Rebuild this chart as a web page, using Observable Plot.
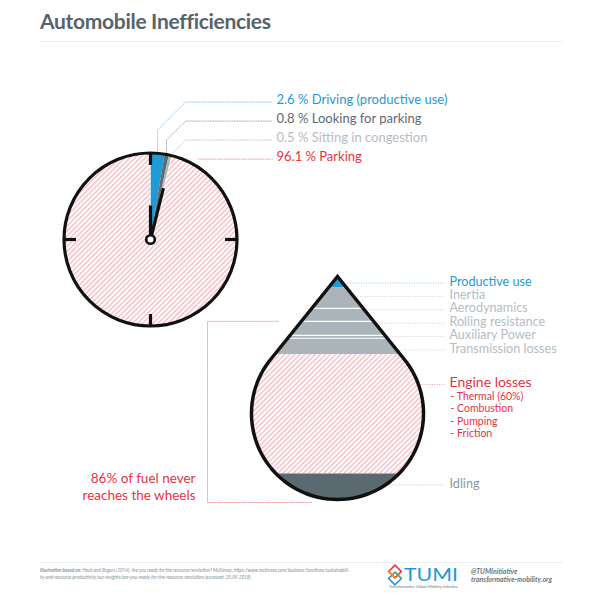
<!DOCTYPE html>
<html><head><meta charset="utf-8">
<script src="https://cdn.jsdelivr.net/npm/d3@7"></script>
<script src="https://cdn.jsdelivr.net/npm/@observablehq/plot@0.6"></script>
<style>
html,body{margin:0;padding:0;background:#fff;}
#page{position:relative;width:600px;height:600px;overflow:hidden;font-family:Lato,"Open Sans",sans-serif;}
#head{position:relative;height:45px;}
#title{position:absolute;left:40px;top:8px;margin:0;font-size:21px;font-weight:700;letter-spacing:-0.3px;color:#56636c;line-height:1.2;white-space:nowrap;}
#rule{position:absolute;left:40px;top:41px;width:523px;height:0;border-top:1px solid #eceef0;}
#chart{height:512px;}
#chart svg{display:block;}
#foot{position:relative;height:43px;}
#foot svg{display:block;}
</style></head>
<body><div id="page">
<div id="head"><h1 id="title">Automobile Inefficiencies</h1><div id="rule"></div></div>
<div id="chart"></div>
<div id="foot">
<svg width="600" height="43" viewBox="0 557 600 43" font-family="Lato, sans-serif">
  <line x1="40" x2="563" y1="562.5" y2="562.5" stroke="#eceef0" stroke-width="1"/>
  <text x="40" y="572" font-size="4.7" font-style="italic" fill="#8a9196"><tspan font-weight="700">Illustration based on:</tspan> Heck and Rogers (2014): Are you ready for the resource revolution? McKinsey, https://www.mckinsey.com/business-functions/sustainabili-</text>
  <text x="40" y="578.5" font-size="4.7" font-style="italic" fill="#8a9196">ty-and-resource-productivity/our-insights/are-you-ready-for-the-resource-revolution (accessed: 20.09.2018)</text>
  <g transform="translate(395,575) rotate(45)" fill="none" stroke-width="1.6">
    <rect x="-7" y="-7" width="9" height="9" stroke="#e8323f"/>
    <rect x="-2" y="-2" width="9" height="9" stroke="#1e9ad6"/>
    <line x1="-7" y1="2" x2="2" y2="2" stroke="#f39200"/>
    <line x1="7" y1="-2" x2="-2" y2="-2" stroke="#6cb33f"/>
  </g>
  <text x="404" y="581" font-size="17" fill="#1e9ad6" textLength="54" lengthAdjust="spacingAndGlyphs">TUMI</text>
  <text x="389" y="588" font-size="3.4" fill="#6b757b" textLength="69" lengthAdjust="spacingAndGlyphs">Transformative Urban Mobility Initiative</text>
  <text x="471" y="574" font-size="7" font-weight="700" font-style="italic" fill="#6b757b">@TUMInitiative</text>
  <text x="471" y="582" font-size="7" font-weight="700" font-style="italic" fill="#6b757b" textLength="81" lengthAdjust="spacingAndGlyphs">transformative-mobility.org</text>
</svg>
</div>
</div>
<script>
// ---------------- DATA ----------------
const clockLabels = ["Driving (productive use)", "Looking for parking", "Sitting in congestion", "Parking"];
const clockShares = [2.6, 0.8, 0.5, 96.1];

const fuelBands = ["Productive use", "Inertia", "Aerodynamics", "Rolling resistance", "Auxiliary Power", "Transmission losses", "Engine losses", "Idling"];
const fuelHeights = [4.9, 9.4, 5.8, 6.3, 1.3, 7.2, 53.4, 11.7]; // share of the drop's height (%)
const engineSubItems = ["- Thermal (60%)", "- Combustion", "- Pumping", "- Friction"];
const bracketLines = ["86% of fuel never", "reaches the wheels"];

// ---------------- STYLES ----------------
const BLUE = "#1e9ad6", DARK = "#5e6a72", LIGHT = "#aab4b9", RED = "#e8323f", IDLE = "#5b6971", INK = "#111";
const clockFills = [BLUE, DARK, LIGHT, "url(#hatch)"];
const clockText = [BLUE, DARK, "#b5bdc2", RED];
const clockLead = ["#8fcdee", "#a9b0b5", "#c9cfd3", "#f3a0a7"];
const bandFills = [BLUE, LIGHT, LIGHT, LIGHT, LIGHT, LIGHT, "url(#hatch)", IDLE];
const bandText = [BLUE, "#b5bdc2", "#b5bdc2", "#b5bdc2", "#b5bdc2", "#b5bdc2", RED, "#8d979d"];
const bandLead = ["#8fcdee", "#cdd2d6", "#cdd2d6", "#cdd2d6", "#cdd2d6", "#cdd2d6", "#f3a0a7", "#bfc5c9"];

// ---------------- LAYOUT ----------------
const TOP = 45, H = 512, W = 600;
const clock = {cx: 150, cy: 239, r: 86.5};
const drop = {cx: 337, apexY: 276, cy: 413, r: 86};
const clockLabelX = 276, clockLeadEnd = 272, clockElbowX = 185;
const clockLabelY = clockLabels.map((d, i) => 99.8 + i * 19);
const clockAnchorFrac = [null, null, null, 0.085]; // where the parking leader leaves the dial
const dropLabelX = 449, dropLeadEnd = 444;
const dropLabelY = [281, 294.4, 307.8, 321.2, 334.6, 348, 382.5, 483];
const subY = engineSubItems.map((d, i) => 395.8 + i * 12.6);

// ---------------- GEOMETRY ----------------
const polar = (a, rr) => ({x: clock.cx + rr * Math.sin(a), y: clock.cy - rr * Math.cos(a)});
const pie = d3.pie().sort(null).value(d => d)(clockShares);

const slicePts = pie.flatMap((p, i) => {
  const n = Math.max(4, Math.ceil((p.endAngle - p.startAngle) / 0.01));
  const pts = [{x: clock.cx, y: clock.cy}];
  for (let j = 0; j <= n; j++) pts.push(polar(p.startAngle + (p.endAngle - p.startAngle) * j / n, clock.r));
  pts.push({x: clock.cx, y: clock.cy});
  return pts.map(q => ({...q, k: i, fill: clockFills[i]}));
});

const ticks = d3.range(4).map(i => {
  const a = i * Math.PI / 2, p1 = polar(a, clock.r - 12), p2 = polar(a, clock.r);
  return {x1: p1.x, y1: p1.y, x2: p2.x, y2: p2.y};
});
const handAngles = [pie[0].startAngle, pie[2].endAngle];
const handLens = [34, 53];
const hands = handAngles.map((a, i) => {
  const p = polar(a, handLens[i]);
  return {x1: clock.cx, y1: clock.cy, x2: p.x, y2: p.y};
});

const clockLeaders = pie.flatMap((p, i) => {
  const ly = clockLabelY[i] + 1.8;
  const a = clockAnchorFrac[i] != null ? clockAnchorFrac[i] * 2 * Math.PI : (p.startAngle + p.endAngle) / 2;
  const p0 = polar(a, clockAnchorFrac[i] != null ? clock.r + 7 : clock.r - 1);
  const pts = [p0];
  const vy = ly + (clockElbowX - p0.x);
  if (clockElbowX > p0.x && vy < p0.y) { pts.push({x: p0.x, y: vy}); pts.push({x: clockElbowX, y: ly}); }
  else pts.push({x: p0.x + (p0.y - ly), y: ly});
  pts.push({x: clockLeadEnd, y: ly});
  return pts.map(q => ({...q, k: i, stroke: clockLead[i]}));
});

// drop
const dd = drop.cy - drop.apexY, cosPhi = drop.r / dd;
const tanY = drop.cy - drop.r * cosPhi, tanOff = drop.r * Math.sqrt(1 - cosPhi * cosPhi);
const slope = tanOff / (tanY - drop.apexY);
const bottomY = drop.cy + drop.r;
const hw = y => y <= tanY ? Math.max(0, (y - drop.apexY) * slope) : Math.sqrt(Math.max(0, drop.r * drop.r - (y - drop.cy) ** 2));
const cum = d3.cumsum(fuelHeights);
const total = cum[cum.length - 1];
const bounds = [drop.apexY, ...Array.from(cum, c => drop.apexY + c / total * (bottomY - drop.apexY))];
const ysBetween = (a, b, step = 0.5) => { const out = []; for (let y = a; y < b; y += step) out.push(y); out.push(b); return out; };

const bandPts = fuelBands.flatMap((name, i) => {
  const ys = ysBetween(bounds[i], bounds[i + 1]);
  const left = ys.map(y => ({x: drop.cx - hw(y), y}));
  const right = ys.slice().reverse().map(y => ({x: drop.cx + hw(y), y}));
  return [...left, ...right].map(q => ({...q, k: i, fill: bandFills[i]}));
});
const sepIdx = [2, 3, 4, 5];
const separators = sepIdx.map(j => ({x1: drop.cx - hw(bounds[j]), x2: drop.cx + hw(bounds[j]), y: bounds[j]}));

const ysUp = ysBetween(drop.apexY, bottomY).reverse();
const outline = [
  ...ysUp.map(y => ({x: drop.cx - hw(y), y})),
  ...ysBetween(drop.apexY, bottomY).map(y => ({x: drop.cx + hw(y), y}))
];

const dropLeaders = fuelBands.map((d, i) => {
  const y = dropLabelY[i] + 1.5;
  return {x1: drop.cx + hw(y) + 1.5, x2: dropLeadEnd, y, stroke: bandLead[i]};
});

// bracket for "86% of fuel never reaches the wheels"
const brTop = bounds[3], brBottom = bottomY + 3, brX = 207;
const bracket = [
  {x: 278, y: brTop}, {x: brX, y: brTop}, {x: brX, y: brBottom}, {x: 312, y: brBottom}
];
const bracketY = [478.5, 495];

// ---------------- PLOT ----------------
const dotted = {strokeWidth: 1, strokeDasharray: "1 1.4"};
const chart = Plot.plot({
  width: W, height: H, margin: 0,
  x: {domain: [0, W], range: [0, W], axis: null},
  y: {domain: [TOP, TOP + H], range: [0, H], axis: null},
  color: {type: "identity"},
  style: {fontFamily: "Lato, 'Open Sans', sans-serif", background: "#fff"},
  marks: [
    // clock leaders
    Plot.line(clockLeaders, {x: "x", y: "y", z: "k", stroke: "stroke", ...dotted, curve: "linear"}),
    // clock slices
    Plot.line(slicePts, {x: "x", y: "y", z: "k", fill: "fill", stroke: "none"}),
    Plot.dot([clock], {x: "cx", y: "cy", r: clock.r, stroke: INK, strokeWidth: 3.2, fill: "none"}),
    Plot.link(ticks, {x1: "x1", y1: "y1", x2: "x2", y2: "y2", stroke: INK, strokeWidth: 3.2, strokeLinecap: "butt"}),
    Plot.link(hands, {x1: "x1", y1: "y1", x2: "x2", y2: "y2", stroke: INK, strokeWidth: 3.2, strokeLinecap: "butt"}),
    Plot.dot([clock], {x: "cx", y: "cy", r: 4.3, stroke: INK, strokeWidth: 2.6, fill: "#fff"}),
    Plot.text(clockLabels, {x: () => clockLabelX, y: (d, i) => clockLabelY[i], text: (d, i) => `${clockShares[i]} % ${d}`,
      fill: (d, i) => clockText[i], textAnchor: "start", fontSize: 13}),

    // drop leaders
    Plot.link(dropLeaders, {x1: "x1", x2: "x2", y1: "y", y2: "y", stroke: "stroke", ...dotted}),
    Plot.line(bracket, {x: "x", y: "y", stroke: "#f3a0a7", ...dotted}),
    // drop bands
    Plot.line(bandPts, {x: "x", y: "y", z: "k", fill: "fill", stroke: "none"}),
    Plot.link(separators, {x1: "x1", x2: "x2", y1: "y", y2: "y", stroke: "#fff", strokeWidth: 1.2}),
    Plot.line(outline, {x: "x", y: "y", stroke: INK, strokeWidth: 3.5, strokeLinejoin: "miter", strokeMiterlimit: 10, fill: "none"}),
    Plot.text(fuelBands, {x: () => dropLabelX, y: (d, i) => dropLabelY[i], text: d => d,
      fill: (d, i) => bandText[i], textAnchor: "start", fontSize: (d, i) => i === 6 ? 14 : 12.6}),
    Plot.text(engineSubItems, {x: () => dropLabelX + 1, y: (d, i) => subY[i], text: d => d, fill: RED, textAnchor: "start", fontSize: 10.5}),
    Plot.text(bracketLines, {x: () => 195, y: (d, i) => bracketY[i], text: d => d, fill: RED, textAnchor: "end", fontSize: 13.5})
  ]
});

// hatch pattern
const defs = d3.select(chart).insert("defs", ":first-child");
const pat = defs.append("pattern").attr("id", "hatch").attr("patternUnits", "userSpaceOnUse")
  .attr("width", 3.6).attr("height", 3.6).attr("patternTransform", "rotate(45)");
pat.append("rect").attr("width", 3.6).attr("height", 3.6).attr("fill", "#fff");
pat.append("line").attr("x1", 1.8).attr("x2", 1.8).attr("y1", 0).attr("y2", 3.6).attr("stroke", "#f5a9b0").attr("stroke-width", 1.1);

document.getElementById("chart").appendChild(chart);
</script>
</body></html>
